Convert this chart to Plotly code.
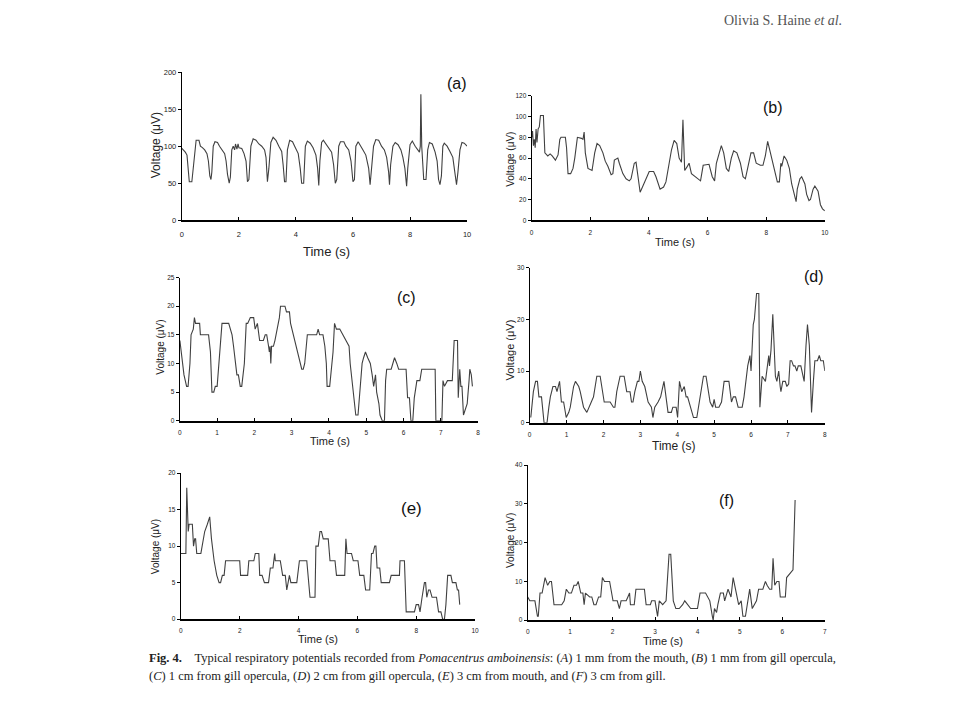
import plotly.graph_objects as go

# ---------------- data ----------------
a_t = [0, 0.05, 0.12, 0.18, 0.22, 0.26, 0.35, 0.40, 0.46, 0.50, 0.60, 0.65, 0.72, 0.80, 0.88, 0.93, 0.98, 1.02, 1.05, 1.10,
       1.16, 1.25, 1.32, 1.40, 1.50, 1.55, 1.60, 1.66, 1.70, 1.75, 1.80, 1.85, 1.88, 1.93, 1.97, 2.00, 2.10, 2.18, 2.25, 2.30,
       2.35, 2.42, 2.50, 2.60, 2.70, 2.80, 2.90, 2.95, 3.00, 3.05, 3.12, 3.20, 3.30, 3.40, 3.50, 3.55, 3.60, 3.65, 3.70, 3.78,
       3.88, 3.98, 4.08, 4.15, 4.20, 4.27, 4.33, 4.40, 4.50, 4.60, 4.70, 4.76, 4.80, 4.84, 4.90, 4.96, 5.05, 5.15, 5.25, 5.32,
       5.38, 5.43, 5.50, 5.56, 5.68, 5.75, 5.85, 5.93, 6.00, 6.05, 6.10, 6.18, 6.25, 6.35, 6.45, 6.55, 6.60, 6.65, 6.72, 6.80,
       6.90, 7.00, 7.10, 7.18, 7.25, 7.28, 7.32, 7.40, 7.48, 7.58, 7.68, 7.75, 7.82, 7.88, 7.92, 8.00, 8.08, 8.18, 8.27, 8.33,
       8.36, 8.38, 8.41, 8.45, 8.48, 8.56, 8.62, 8.68, 8.78, 8.88, 8.95, 9.00, 9.05, 9.10, 9.15, 9.20, 9.30, 9.40, 9.50, 9.57,
       9.63, 9.68, 9.75, 9.82, 9.90, 10.0]
a_v = [97, 95, 92, 88, 70, 52, 52, 70, 100, 108, 108, 100, 98, 95, 90, 80, 60, 55, 65, 100,
       106, 105, 100, 95, 90, 80, 62, 50, 58, 95, 100, 95, 103, 96, 103, 98, 97, 90, 80, 52,
       55, 100, 110, 108, 103, 100, 95, 85, 52, 70, 105, 112, 108, 100, 93, 75, 52, 52, 95, 108,
       106, 98, 90, 70, 50, 50, 100, 107, 104, 98, 88, 70, 47, 80, 105, 108, 103, 98, 92, 75,
       50, 55, 100, 106, 106, 100, 95, 80, 52, 55, 100, 106, 102, 95, 88, 70, 48, 70, 100, 109,
       108, 100, 95, 85, 65, 48, 75, 100, 105, 102, 95, 85, 70, 46, 70, 102, 107, 100, 95, 92,
       100, 170, 100, 60, 55, 55, 95, 105, 103, 92, 80, 55, 48, 60, 100, 104, 100, 93, 85, 65,
       48, 65, 95, 105, 104, 100]

b_t = [0, 0.03, 0.06, 0.09, 0.12, 0.15, 0.18, 0.22, 0.26, 0.30, 0.40, 0.45, 0.55, 0.63, 0.70, 0.81, 0.90, 0.96, 1.00, 1.15,
       1.19, 1.24, 1.33, 1.41, 1.47, 1.56, 1.70, 1.75, 1.79, 1.83, 1.92, 2.06, 2.15, 2.23, 2.32, 2.43, 2.51, 2.60, 2.71, 2.77,
       2.82, 2.94, 2.99, 3.11, 3.22, 3.33, 3.39, 3.50, 3.56, 3.65, 3.70, 3.78, 3.90, 4.01, 4.16, 4.24, 4.38, 4.50, 4.58, 4.69,
       4.77, 4.86, 4.95, 5.03, 5.11, 5.16, 5.22, 5.31, 5.37, 5.45, 5.59, 5.76, 5.85, 6.05, 6.16, 6.24, 6.30, 6.38, 6.47, 6.55,
       6.64, 6.72, 6.81, 6.89, 7.00, 7.12, 7.21, 7.29, 7.40, 7.48, 7.57, 7.66, 7.80, 7.89, 7.97, 8.05, 8.12, 8.23, 8.31, 8.38,
       8.45, 8.50, 8.53, 8.61, 8.70, 8.79, 8.87, 8.95, 9.02, 9.06, 9.15, 9.21, 9.32, 9.38, 9.46, 9.51, 9.60, 9.66, 9.77, 9.85,
       9.92, 10.0]
b_v = [80, 86, 72, 78, 70, 88, 75, 88, 90, 101, 101, 65, 62, 64, 62, 58, 63, 78, 80, 80,
       70, 45, 45, 50, 60, 80, 79, 78, 85, 65, 50, 48, 65, 74, 72, 65, 57, 52, 44, 45,
       58, 60, 55, 45, 40, 38, 40, 55, 56, 40, 27, 32, 40, 47, 47, 42, 30, 32, 37, 55,
       68, 77, 74, 60, 56, 97, 48, 52, 55, 45, 42, 38, 53, 54, 42, 38, 55, 63, 72, 65,
       50, 47, 60, 67, 65, 55, 42, 40, 55, 65, 65, 55, 53, 53, 62, 76, 68, 55, 45, 37,
       37, 55, 52, 62, 58, 50, 35, 25, 18, 30, 40, 42, 35, 25, 19, 20, 30, 33, 28, 15,
       11, 9]

c_t = [0, 0.11, 0.18, 0.22, 0.27, 0.30, 0.36, 0.39, 0.42, 0.53, 0.55, 0.77, 0.82, 0.86, 0.91, 0.95, 1.00, 1.04, 1.09, 1.13,
       1.31, 1.35, 1.40, 1.44, 1.53, 1.57, 1.62, 1.66, 1.73, 1.78, 1.82, 1.89, 1.98, 2.02, 2.08, 2.14, 2.24, 2.29, 2.33, 2.38,
       2.40, 2.42, 2.44, 2.46, 2.51, 2.55, 2.67, 2.70, 2.82, 2.86, 2.94, 2.97, 3.04, 3.09, 3.13, 3.20, 3.27, 3.31, 3.35, 3.42,
       3.67, 3.71, 3.75, 3.84, 3.89, 3.93, 3.95, 4.02, 4.07, 4.11, 4.15, 4.20, 4.29, 4.38, 4.47, 4.54, 4.57, 4.60, 4.64, 4.72,
       4.78, 4.82, 4.89, 4.93, 4.98, 5.04, 5.11, 5.16, 5.20, 5.25, 5.28, 5.34, 5.37, 5.43, 5.49, 5.52, 5.55, 5.67, 5.71, 5.76,
       5.82, 5.87, 6.07, 6.11, 6.16, 6.20, 6.25, 6.29, 6.36, 6.44, 6.49, 6.85, 6.87, 7.03, 7.06, 7.10, 7.18, 7.31, 7.36, 7.45,
       7.47, 7.51, 7.54, 7.57, 7.61, 7.65, 7.71, 7.76, 7.78, 7.82, 7.85]
c_v = [14, 8, 6, 6, 10, 15, 16, 18, 17, 17, 15, 15, 12, 5, 5, 6, 6, 10, 15, 17,
       17, 16, 15, 13, 8, 8, 6, 6, 10, 17, 17, 18, 18, 16, 17, 14, 14, 15, 15, 13,
       12, 13, 10, 13, 13, 14, 18, 20, 20, 19, 19, 17, 15, 14, 13, 11, 9, 9, 10, 15,
       15, 16, 15, 15, 13, 10, 6, 6, 9, 12, 17, 16, 16, 15, 14, 13, 10, 8, 5, 1,
       1, 5, 10, 11, 12, 11, 10, 8, 6, 8, 5, 3, 1, 0, 0, 7, 9, 9, 10, 11,
       10, 9, 9, 4, 4, 0, 0, 4, 7, 7, 9, 9, 0, 0, 7, 6, 7, 7, 14, 14,
       4, 9, 6, 6, 1, 2, 3, 7, 9, 8, 6]

d_t = [0.03, 0.10, 0.16, 0.21, 0.25, 0.32, 0.39, 0.47, 0.52, 0.56, 0.63, 0.70, 0.74, 0.81, 0.86, 0.92, 0.99, 1.06, 1.10, 1.19,
       1.24, 1.33, 1.37, 1.46, 1.55, 1.60, 1.67, 1.73, 1.82, 1.91, 1.97, 2.02, 2.18, 2.27, 2.31, 2.36, 2.45, 2.56, 2.63, 2.72,
       2.76, 2.80, 2.85, 2.92, 2.96, 3.00, 3.05, 3.12, 3.21, 3.30, 3.34, 3.39, 3.48, 3.55, 3.64, 3.70, 3.75, 3.84, 3.88, 3.97,
       4.01, 4.06, 4.12, 4.19, 4.24, 4.28, 4.37, 4.44, 4.53, 4.60, 4.64, 4.71, 4.78, 4.82, 4.89, 4.96, 5.00, 5.04, 5.13, 5.20,
       5.27, 5.40, 5.47, 5.52, 5.58, 5.65, 5.76, 5.81, 5.88, 5.91, 5.97, 6.00, 6.06, 6.09, 6.15, 6.21, 6.24, 6.27, 6.30, 6.39,
       6.42, 6.48, 6.50, 6.54, 6.59, 6.66, 6.70, 6.75, 6.79, 6.81, 6.86, 6.93, 6.97, 7.02, 7.06, 7.10, 7.15, 7.19, 7.24, 7.28,
       7.35, 7.40, 7.44, 7.49, 7.53, 7.58, 7.62, 7.64, 7.69, 7.73, 7.80, 7.85, 7.89, 7.96, 8.00]
d_v = [1, 6, 8, 8, 5, 5, 0, 0, 3, 5, 7, 7, 6, 8, 4, 4, 1, 2, 3, 7,
       8, 7, 6, 3, 2, 3, 4, 5, 9, 9, 6, 4, 4, 3, 3, 6, 9, 9, 6, 6,
       4, 4, 6, 8, 8, 10, 8, 7, 4, 3, 1, 3, 4, 5, 8, 5, 2, 2, 3, 3,
       1, 8, 6, 7, 5, 5, 3, 1, 1, 4, 6, 9, 9, 7, 4, 3, 4.5, 3, 3, 4,
       8, 8, 4, 5, 5, 3, 3, 5, 10, 11, 13, 10, 19, 20, 25, 25, 3, 7, 9, 8,
       10, 13, 11, 14, 21, 9, 8, 10, 7, 6, 8, 8, 7, 7.5, 12, 12, 11, 11, 10, 11,
       11, 9, 8, 15, 19, 15, 8, 2, 8, 12, 12, 13, 12, 12, 10]

e_t = [0, 0.17, 0.20, 0.25, 0.28, 0.39, 0.43, 0.47, 0.50, 0.54, 0.68, 0.73, 0.81, 0.90, 0.98, 1.04, 1.13, 1.22, 1.30, 1.35,
       1.41, 1.47, 1.52, 2.00, 2.03, 2.27, 2.31, 2.48, 2.53, 2.65, 2.68, 2.76, 2.84, 2.98, 3.04, 3.13, 3.19, 3.21, 3.38, 3.46,
       3.55, 3.60, 3.69, 3.74, 3.94, 4.03, 4.28, 4.39, 4.56, 4.59, 4.67, 4.73, 4.78, 4.84, 5.01, 5.07, 5.24, 5.29, 5.57, 5.61,
       5.65, 5.80, 5.86, 6.02, 6.08, 6.22, 6.28, 6.42, 6.48, 6.53, 6.59, 6.63, 6.67, 6.76, 6.81, 7.09, 7.15, 7.43, 7.45, 7.60,
       7.66, 7.94, 8.00, 8.08, 8.13, 8.20, 8.28, 8.32, 8.36, 8.42, 8.47, 8.54, 8.69, 8.76, 8.84, 8.90, 8.96, 9.01, 9.07, 9.18,
       9.23, 9.35, 9.40, 9.44, 9.48]
e_v = [9, 9, 18, 12, 13, 13, 10, 11, 11, 9, 9, 10, 12, 13, 14, 11, 8, 6, 5, 5,
       6, 6, 8, 8, 6, 6, 8, 8, 9, 9, 6, 6, 5, 5, 7, 7, 9, 8, 8, 6,
       6, 4, 6, 5, 5, 8, 8, 3, 3, 10, 10, 12, 12, 11, 11, 8, 8, 6, 6, 11,
       9, 9, 8, 8, 6, 6, 4, 4, 9, 9, 10, 10, 7, 7, 5, 5, 6, 6, 8, 8,
       1, 1, 2, 2, 1, 3, 5, 5, 3, 4, 4, 3, 3, 1, 1, 0, 0, 2, 6, 6,
       5, 5, 4, 4, 2]

f_t = [0, 0.05, 0.17, 0.23, 0.25, 0.29, 0.34, 0.41, 0.47, 0.52, 0.56, 0.62, 0.80, 0.86, 0.91, 0.97, 1.03, 1.09, 1.15, 1.19,
       1.25, 1.30, 1.33, 1.36, 1.46, 1.51, 1.56, 1.61, 1.67, 1.72, 1.76, 1.81, 1.93, 2.01, 2.11, 2.16, 2.20, 2.32, 2.36, 2.40,
       2.42, 2.51, 2.55, 2.75, 2.79, 2.89, 2.92, 3.00, 3.06, 3.10, 3.18, 3.26, 3.33, 3.37, 3.43, 3.49, 3.57, 3.65, 3.70, 3.78,
       3.84, 4.00, 4.06, 4.19, 4.25, 4.29, 4.35, 4.37, 4.40, 4.45, 4.48, 4.54, 4.61, 4.64, 4.72, 4.76, 4.79, 4.84, 4.89, 4.92,
       4.97, 5.03, 5.07, 5.13, 5.17, 5.23, 5.29, 5.34, 5.39, 5.44, 5.54, 5.60, 5.64, 5.70, 5.75, 5.78, 5.82, 5.87, 5.92, 5.95,
       6.07, 6.10, 6.18, 6.25, 6.30]
f_v = [6, 5, 5, 1, 1, 7, 7, 11, 9, 10, 10, 4, 4, 5, 8, 7, 7, 9, 9, 10,
       7, 7, 4, 7, 6, 6, 4, 4, 6, 6, 11, 10, 10, 5, 5, 3, 5, 5, 6, 7,
       4, 4, 8, 8, 4, 4, 5, 5, 1, 5, 4, 5, 17, 17, 5, 3, 3, 4, 5, 4,
       3, 3, 7, 7, 6, 5, 1, 0, 3, 2, 4, 7, 7, 5, 8, 7, 6, 11, 8, 6,
       4, 5, 1, 1, 4, 8, 3, 4, 5, 8, 8, 10, 9, 8, 8, 16, 9, 10, 10, 6,
       6, 11, 12, 13, 31]

panel_letters = ["(a)", "(b)", "(c)", "(d)", "(e)", "(f)"]
x_max = [10, 10, 8, 8, 10, 7]
y_max = [200, 120, 25, 30, 20, 40]
x_step = [2, 2, 1, 1, 2, 1]
y_step = [50, 20, 5, 10, 5, 10]
series = [(a_t, a_v), (b_t, b_v), (c_t, c_v), (d_t, d_v), (e_t, e_v), (f_t, f_v)]
y_title = "Voltage (\u03bcV)"
x_title = "Time (s)"
caption_1 = ("<b>Fig. 4.</b>\u2003Typical respiratory potentials recorded from <i>Pomacentrus amboinensis</i>: "
             "(<i>A</i>) 1 mm from the mouth, (<i>B</i>) 1 mm from gill opercula,")
caption_2 = ("(<i>C</i>) 1 cm from gill opercula, (<i>D</i>) 2 cm from gill opercula, "
             "(<i>E</i>) 3 cm from mouth, and (<i>F</i>) 3 cm from gill.")
header = "Olivia S. Haine <i>et al.</i>"

# ---------------- layout (pixel boxes: left, right, top, bottom) ----------------
W, H = 960, 720
boxes = [(181, 468, 69, 219), (533, 828, 93, 219),
         (179, 479, 277, 422), (531, 828, 267, 424),
         (180, 476, 475, 623), (529, 828, 467, 624)]
letter_pos = [(458, 80), (776, 105), (407, 297), (817, 276), (412, 511), (729, 503)]
ytitle_pos = [(155, 143), (511, 157), (160, 348), (511, 350), (154, 550), (511, 543)]
xtitle_pos = [(327, 251), (677, 241), (330, 443), (676, 448), (318, 643), (665, 645)]
title_size = [12, 10, 10, 11, 10, 10]
xt_size = [13, 11, 11, 12, 11, 11]
tick_size = [7.5, 6.5, 6.5, 6.5, 6.5, 6.5]
x_standoff = [6, 5, 5, 5, 4, 4]
letter_size = [16, 16, 16, 16, 17, 16]

fig = go.Figure()
annotations = []
for i, (t, v) in enumerate(series):
    n = "" if i == 0 else str(i + 1)
    fig.add_trace(go.Scatter(x=t, y=v, mode="lines", xaxis="x" + n, yaxis="y" + n,
                             line=dict(color="#404040", width=1.1), showlegend=False,
                             hoverinfo="skip"))
    l, r, tp, b = boxes[i]
    common = dict(showgrid=False, zeroline=False, showline=True, linecolor="black",
                  ticklen=3, tickcolor="black", tickwidth=1,
                  tickfont=dict(family="Liberation Sans, Arial", size=tick_size[i], color="#222"))
    fig.layout["xaxis" + n] = dict(domain=[l / W, r / W], range=[0, x_max[i]], dtick=x_step[i],
                                   tick0=0, anchor="y" + n, linewidth=1.6, ticks="inside",
                                   ticklabelstandoff=x_standoff[i], **common)
    fig.layout["yaxis" + n] = dict(domain=[1 - b / H, 1 - tp / H], range=[0, y_max[i]], dtick=y_step[i],
                                   tick0=0, anchor="x" + n, linewidth=1.2, ticks="outside", **common)
    ann_common = dict(xref="paper", yref="paper", showarrow=False, xanchor="center", yanchor="middle")
    annotations.append(dict(text=panel_letters[i], x=letter_pos[i][0] / W, y=1 - letter_pos[i][1] / H,
                            font=dict(family="Liberation Sans, Arial", size=letter_size[i], color="#111"),
                            **ann_common))
    annotations.append(dict(text=y_title, x=ytitle_pos[i][0] / W, y=1 - ytitle_pos[i][1] / H, textangle=-90,
                            font=dict(family="Liberation Sans, Arial", size=title_size[i], color="#222"),
                            **ann_common))
    annotations.append(dict(text=x_title, x=xtitle_pos[i][0] / W, y=1 - xtitle_pos[i][1] / H,
                            font=dict(family="Liberation Sans, Arial", size=xt_size[i], color="#222"),
                            **ann_common))

for txt, ypx in ((caption_1, 662), (caption_2, 681)):
    annotations.append(dict(text=txt, x=146 / W, y=1 - ypx / H, xref="paper", yref="paper",
                            showarrow=False, xanchor="left", yanchor="middle", align="left",
                            font=dict(family="Liberation Serif, Times New Roman", size=12.5, color="#222")))
annotations.append(dict(text=header, x=786 / W, y=1 - 17 / H, xref="paper", yref="paper",
                        showarrow=False, xanchor="center", yanchor="middle",
                        font=dict(family="Liberation Serif, Times New Roman", size=14, color="#555")))

fig.update_layout(width=W, height=H, margin=dict(l=0, r=0, t=0, b=0),
                  paper_bgcolor="white", plot_bgcolor="white", annotations=annotations)
fig.write_html("out.html", config={"displayModeBar": False},
               post_script="document.body.style.margin='0px';")
